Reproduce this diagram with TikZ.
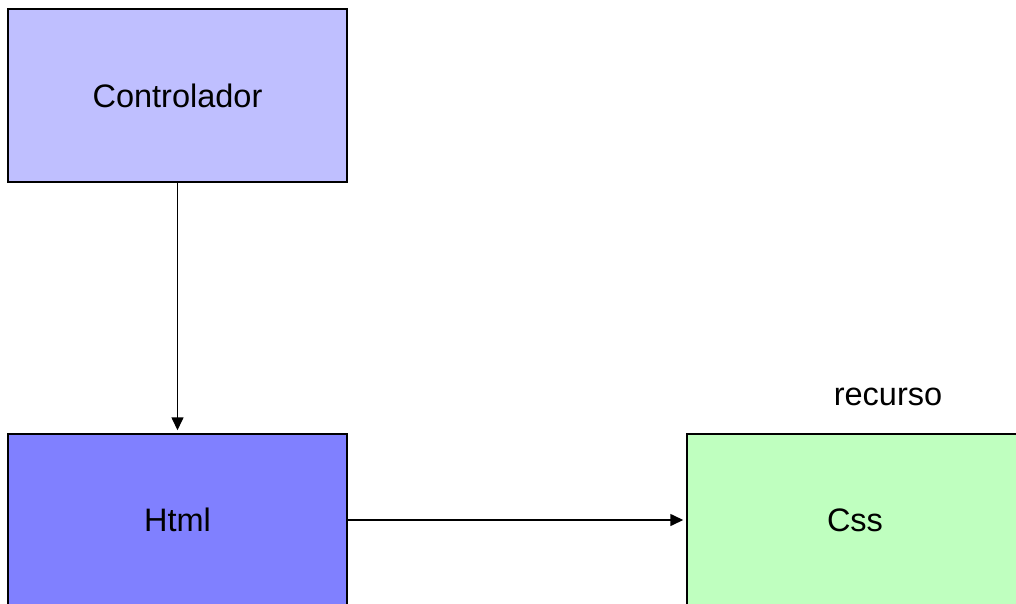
\documentclass[tikz,border=0pt]{standalone}
\usepackage{fontspec}
\setmainfont{Liberation Sans}
\usetikzlibrary{arrows.meta}
\definecolor{ctrlfill}{HTML}{BFBFFF}
\definecolor{htmlfill}{HTML}{8080FF}
\definecolor{cssfill}{HTML}{BFFFBF}
\begin{document}
\begin{tikzpicture}[x=1pt,y=-1pt,
  box/.style={draw=black, line width=1.5pt, rectangle, inner sep=0pt, font=\fontsize{32.5}{38}\selectfont},
  conn/.style={draw=black, line width=1.6pt, -{Triangle[length=13pt,width=12pt]}}]
\useasboundingbox (0,0) rectangle (1016,604);
\clip (0,0) rectangle (1016,604);
\fill[white] (0,0) rectangle (1016,604);
\node[box, fill=ctrlfill, minimum width=339pt, minimum height=173pt] (ctrl) at (177.5,95.5) {Controlador};
\node[box, fill=htmlfill, minimum width=339pt, minimum height=172pt] (html) at (177.5,520) {Html};
\node[box, fill=cssfill, minimum width=336pt, minimum height=172pt] (css) at (855,520) {Css};
\node[font=\fontsize{32.5}{38}\selectfont] (rec) at (888,397) {recurso};
\draw[conn, shorten >=3pt] (ctrl.south) -- (html.north);
\draw[conn, shorten >=3pt] (html.east) -- (css.west);
\end{tikzpicture}
\end{document}
